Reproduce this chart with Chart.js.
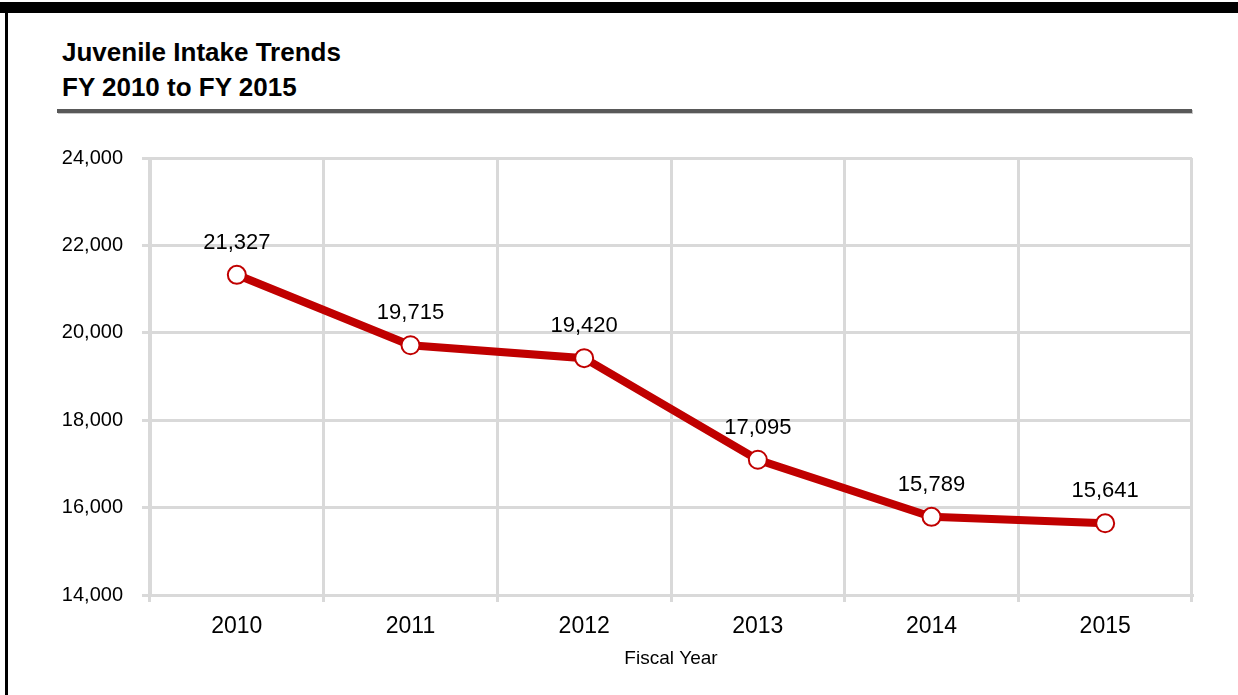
<!DOCTYPE html>
<html lang="en">
<head>
  <meta charset="UTF-8" />
  <title>Juvenile Intake Trends</title>
  <script src="https://cdn.jsdelivr.net/npm/chart.js"></script>
  <style>
    html, body { margin: 0; padding: 0; background: #fff; }
    #page { position: relative; width: 1238px; height: 695px; overflow: hidden; font-family: "Liberation Sans", Arial, sans-serif; }
    #topbar { position: absolute; left: 0; top: 2px; width: 1238px; height: 11px; background: #000; }
    #leftbar { position: absolute; left: 5px; top: 2px; width: 3px; height: 693px; background: #000; }
    #title { position: absolute; left: 62px; top: 35px; font-size: 26px; font-weight: bold; line-height: 35px; color: #000; }
    #rule { position: absolute; left: 57px; top: 109px; width: 1135px; height: 4px; background: #595959; box-shadow: 1px 1px 0 #c8c8c8; }
    #wrap { position: absolute; left: 0; top: 0; width: 1238px; height: 695px; }
  </style>
</head>
<body>
  <div id="page">
    <div id="topbar"></div>
    <div id="leftbar"></div>
    <div id="title">Juvenile Intake Trends<br>FY 2010 to FY 2015</div>
    <div id="rule"></div>
    <div id="wrap"><canvas id="chart" width="1238" height="695"></canvas></div>
  </div>
  <script>
    // data
    const years = ["2010", "2011", "2012", "2013", "2014", "2015"];
    const intake = [21327, 19715, 19420, 17095, 15789, 15641];
    const yTicks = [14000, 16000, 18000, 20000, 22000, 24000];

    const red = "#c00000";
    const gridGray = "#d9d9d9";
    const fontFamily = "'Liberation Sans', Arial, sans-serif";

    // labels above each point
    const pointLabels = {
      id: "pointLabels",
      afterDatasetsDraw(chart) {
        const ctx = chart.ctx;
        const meta = chart.getDatasetMeta(0);
        ctx.save();
        ctx.font = "22px " + fontFamily;
        ctx.fillStyle = "#000";
        ctx.textAlign = "center";
        ctx.textBaseline = "alphabetic";
        meta.data.forEach((pt, i) => {
          ctx.fillText(intake[i].toLocaleString("en-US"), pt.x, pt.y - 26);
        });
        ctx.restore();
      }
    };

    new Chart(document.getElementById("chart"), {
      type: "line",
      data: {
        labels: years,
        datasets: [{
          data: intake,
          borderColor: red,
          borderWidth: 8,
          backgroundColor: "#fff",
          pointBackgroundColor: "#fff",
          pointBorderColor: red,
          pointBorderWidth: 2,
          pointRadius: 9,
          tension: 0,
          clip: false
        }]
      },
      options: {
        responsive: false,
        animation: false,
        layout: { padding: { top: 158, right: 46, left: 0, bottom: 0 } },
        plugins: { legend: { display: false }, tooltip: { enabled: false } },
        scales: {
          x: {
            offset: true,
            grid: { offset: true, color: gridGray, lineWidth: 3, tickLength: 7 },
            border: { color: gridGray, width: 3 },
            ticks: { color: "#000", font: { family: fontFamily, size: 23 }, padding: 11 },
            title: { display: true, text: "Fiscal Year", color: "#000", font: { family: fontFamily, size: 19 }, padding: { top: 0, bottom: 25 } },
            afterFit(scale) { scale.height = 100; }
          },
          y: {
            min: yTicks[0],
            max: yTicks[yTicks.length - 1],
            afterBuildTicks(scale) { scale.ticks = yTicks.map(v => ({ value: v })); },
            grid: { color: gridGray, lineWidth: 3, tickLength: 8 },
            border: { color: gridGray, width: 3 },
            ticks: {
              color: "#000",
              font: { family: fontFamily, size: 20 },
              padding: 19,
              callback: v => Number(v).toLocaleString("en-US")
            },
            afterFit(scale) { scale.width = 150; }
          }
        }
      },
      plugins: [pointLabels]
    });
  </script>
</body>
</html>
